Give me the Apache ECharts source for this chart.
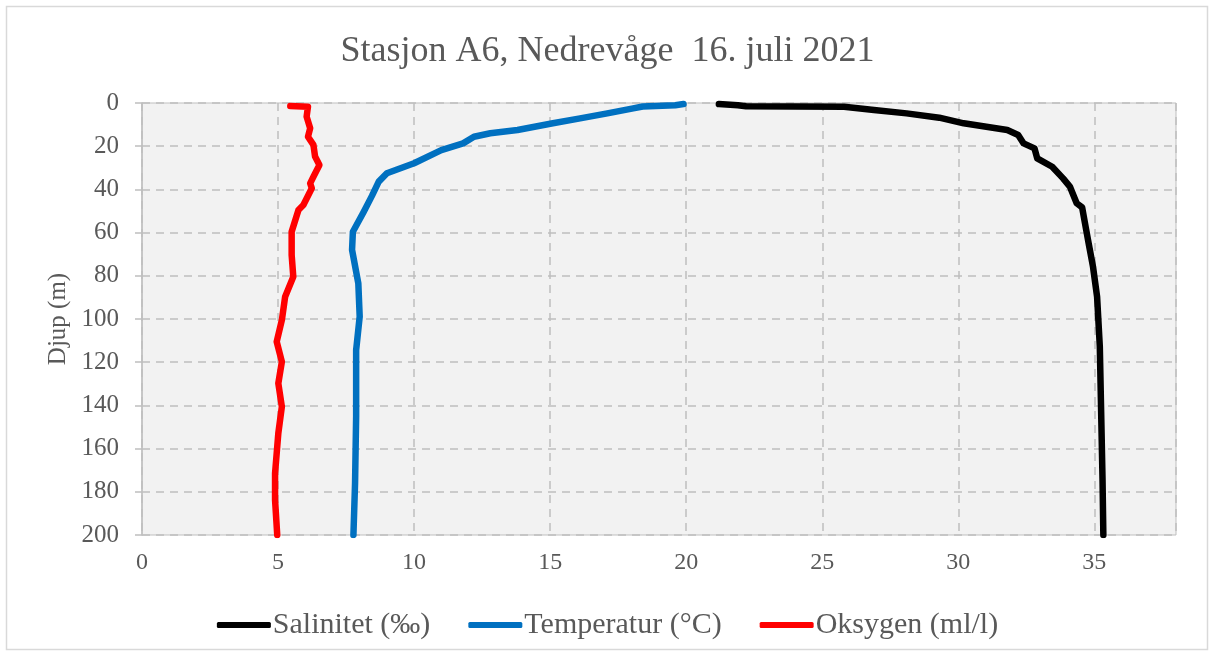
<!doctype html>
<html>
    <head>
        <meta charset="utf-8">
        <title>Stasjon A6</title>
        <style>
            html, body { margin: 0; padding: 0; background: #fff; }
            #main { width: 1215px; height: 657px; }
        </style>
    </head>
    <body>
        <div id="main"></div>
        <script src="https://cdn.jsdelivr.net/npm/echarts@6/dist/echarts.min.js"></script>
        <script>
            // profiles: depth (m) and value
            var salDepth = [0.5, 1.0, 1.5, 1.7, 3.2, 4.8, 6.8, 9.4, 12.5, 14.8, 18.7, 21, 25.6, 29.5, 34.9, 38.7, 41.8, 46.4, 48.3, 58.8, 65.7, 75.8, 89.7, 112.8, 143.6, 174.5, 200];
            var salValue = [21.2, 21.9, 22.2, 25.8, 26.9, 28.1, 29.3, 30.2, 31.8, 32.2, 32.4, 32.8, 32.9, 33.45, 33.85, 34.1, 34.2, 34.35, 34.55, 34.7, 34.8, 34.95, 35.1, 35.2, 35.25, 35.3, 35.33];

            var tempDepth = [0.5, 1.0, 1.6, 2.5, 4.8, 7.1, 9.4, 12.5, 14, 15.6, 18.7, 21.8, 27.9, 32.5, 36.4, 43, 50.3, 59.6, 68, 83.5, 98.9, 114.4, 145, 176, 200];
            var tempValue = [19.9, 19.6, 18.4, 18.05, 17.1, 16.1, 15.1, 13.8, 12.8, 12.2, 11.8, 11.0, 10.0, 9.0, 8.7, 8.45, 8.15, 7.75, 7.72, 7.95, 8.0, 7.87, 7.87, 7.83, 7.77];

            var oxyDepth = [1.4, 1.7, 6.3, 11.7, 15.6, 19.4, 24.8, 28.7, 34.1, 37.2, 39.5, 47.2, 49.5, 59.6, 70.4, 80.4, 89.7, 100.5, 110.5, 119.8, 129.8, 140.6, 152.9, 171.4, 183.8, 200];
            var oxyValue = [5.45, 6.1, 6.05, 6.18, 6.1, 6.3, 6.36, 6.52, 6.3, 6.18, 6.24, 5.93, 5.75, 5.5, 5.5, 5.56, 5.26, 5.14, 4.95, 5.14, 5.01, 5.14, 5.01, 4.89, 4.89, 4.97];

            var seriesNames = ['Salinitet (‰)', 'Temperatur (°C)', 'Oksygen (ml/l)'];
            var seriesColors = ['#000000', '#0070c0', '#ff0000'];

            var serif = "'Liberation Serif', 'Times New Roman', serif";
            var textColor = '#595959';

            function pairs(values, depths) {
                var out = [];
                for (var i = 0; i < values.length; i++) {
                    out.push([values[i], depths[i]]);
                }
                return out;
            }

            var profiles = [
                pairs(salValue, salDepth),
                pairs(tempValue, tempDepth),
                pairs(oxyValue, oxyDepth)
            ];

            var series = [];
            for (var i = 0; i < seriesNames.length; i++) {
                series.push({
                    name: seriesNames[i],
                    type: 'line',
                    data: profiles[i],
                    showSymbol: false,
                    symbol: 'none',
                    color: seriesColors[i],
                    lineStyle: { width: 6.5, cap: 'round', join: 'round', color: seriesColors[i] }
                });
            }

            var chart = echarts.init(document.getElementById('main'));
            chart.setOption({
                backgroundColor: '#ffffff',
                animation: false,
                graphic: [{
                    type: 'rect',
                    shape: { x: 6.5, y: 6.5, width: 1201, height: 643 },
                    style: { fill: 'none', stroke: '#d9d9d9', lineWidth: 1.5 },
                    silent: true
                }],
                title: {
                    text: 'Stasjon A6, Nedrevåge  16. juli 2021',
                    left: 'center',
                    top: 29,
                    textStyle: { fontFamily: serif, fontSize: 36, fontWeight: 'normal', color: textColor }
                },
                legend: {
                    data: seriesNames,
                    left: 'center',
                    top: 605,
                    icon: 'roundRect',
                    itemWidth: 54,
                    itemHeight: 6,
                    itemGap: 38,
                    textStyle: { fontFamily: serif, fontSize: 30, color: textColor, padding: [0, 0, 0, -3] }
                },
                grid: {
                    left: 142,
                    top: 103,
                    right: 39,
                    bottom: 122,
                    show: true,
                    backgroundColor: '#f2f2f2',
                    borderColor: '#bfbfbf',
                    borderWidth: 1
                },
                xAxis: {
                    type: 'value',
                    min: 0,
                    max: 38,
                    interval: 5,
                    axisLine: { show: false },
                    axisTick: { show: false },
                    axisLabel: { showMaxLabel: false, fontFamily: serif, fontSize: 24, color: textColor, margin: 16 },
                    splitLine: { show: true, lineStyle: { color: '#bfbfbf', type: [8, 6], width: 1.5 } }
                },
                yAxis: {
                    type: 'value',
                    inverse: true,
                    min: 0,
                    max: 200,
                    interval: 20,
                    name: 'Djup (m)',
                    nameLocation: 'middle',
                    nameGap: 71,
                    nameTextStyle: { fontFamily: serif, fontSize: 25, color: textColor },
                    axisLine: { show: true, lineStyle: { color: '#bfbfbf', width: 1.5 } },
                    axisTick: { show: true, inside: false, length: 7, lineStyle: { color: '#bfbfbf', width: 1.5 } },
                    axisLabel: { fontFamily: serif, fontSize: 25, color: textColor, margin: 23 },
                    splitLine: { show: true, lineStyle: { color: '#bfbfbf', type: [8, 6], width: 1.5 } }
                },
                series: series
            });
        </script>
    </body>
</html>
